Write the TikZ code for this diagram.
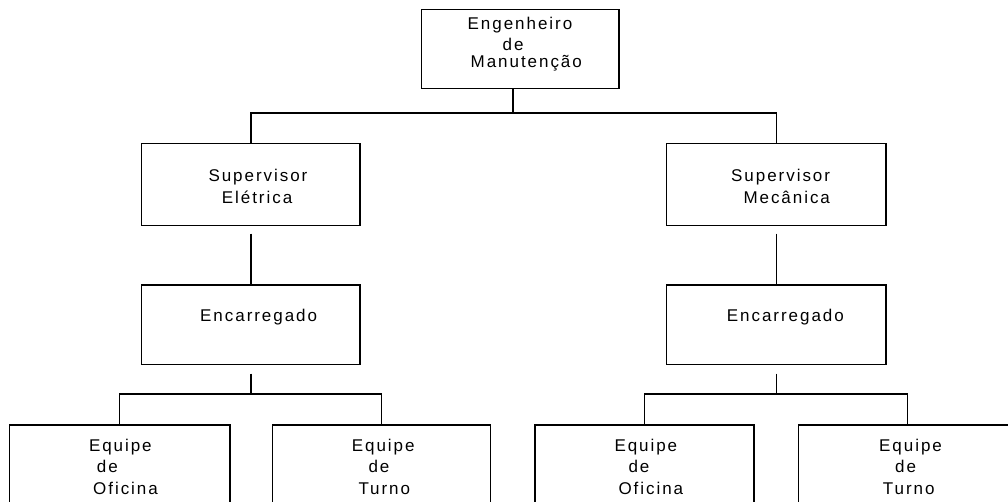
\documentclass[tikz,border=0pt]{standalone}
\usepackage{fontspec}
\newfontfamily\orgfont{Liberation Sans}[LetterSpace=11.5]
\begin{document}
\begin{tikzpicture}[x=1pt,y=-1pt,
  unit/.style={draw=black, line width=1.3pt, inner sep=0pt, fill=white},
  lbl/.style={anchor=base west, inner sep=0pt, font=\orgfont\fontsize{17}{20}\selectfont},
  link/.style={draw=black, line width=1.3pt}]
\useasboundingbox (0,0) rectangle (1008,502);
\fill[white] (0,0) rectangle (1008,502);
\clip (0,0) rectangle (1008,502);

% boxes
\node[unit, minimum width=197.3pt, minimum height=79pt] (eng) at (520.35,48.8) {};
\node[unit, minimum width=218.3pt, minimum height=82pt] (supE) at (250.85,184.7) {};
\node[unit, minimum width=219.3pt, minimum height=82pt] (supM) at (776.35,184.7) {};
\node[unit, minimum width=218.3pt, minimum height=79.5pt] (encE) at (250.85,324.75) {};
\node[unit, minimum width=219.3pt, minimum height=79.5pt] (encM) at (776.35,324.75) {};
\node[unit, minimum width=220.7pt, minimum height=100pt] (ofE) at (119.65,475) {};
\node[unit, minimum width=218pt, minimum height=100pt] (tuE) at (381.7,475) {};
\node[unit, minimum width=219pt, minimum height=100pt] (ofM) at (644.5,475) {};
\node[unit, minimum width=218pt, minimum height=100pt] (tuM) at (907.3,475) {};

% labels
\node[lbl] (engA) at (467.5,30) {Engenheiro};
\node[lbl] (engB) at (502.5,51) {de};
\node[lbl] (engC) at (470.5,67.5) {Manutenção};

\node[lbl] (supEA) at (208.3,181.7) {Supervisor};
\node[lbl] (supEB) at (221.7,203.3) {Elétrica};
\node[lbl] (supMA) at (731,181.7) {Supervisor};
\node[lbl] (supMB) at (743.3,203.3) {Mecânica};

\node[lbl] (encEA) at (200,321.7) {Encarregado};
\node[lbl] (encMA) at (726.7,321.7) {Encarregado};

\node[lbl] (ofEA) at (88.8,451) {Equipe};
\node[lbl] (ofEB) at (96.7,472) {de};
\node[lbl] (ofEC) at (93,494) {Oficina};
\node[lbl] (tuEA) at (351.7,451) {Equipe};
\node[lbl] (tuEB) at (368.3,472) {de};
\node[lbl] (tuEC) at (358.3,494) {Turno};
\node[lbl] (ofMA) at (614.3,451) {Equipe};
\node[lbl] (ofMB) at (628.3,472) {de};
\node[lbl] (ofMC) at (618.3,494) {Oficina};
\node[lbl] (tuMA) at (879,451) {Equipe};
\node[lbl] (tuMB) at (895,472) {de};
\node[lbl] (tuMC) at (882.7,494) {Turno};

% junction points
\coordinate (jTop) at (513,113);
\coordinate (jE) at (250.85,394);
\coordinate (jM) at (776.35,394);

% connectors
\draw[link] (jTop |- eng.south) -- (jTop);
\draw[link] (supE.north) |- (jTop);
\draw[link] (supM.north) |- (jTop);
\draw[link] ([yshift=-7.3pt]supE.south) -- (encE.north);
\draw[link] ([yshift=-7.3pt]supM.south) -- (encM.north);
\draw[link] ([yshift=-8.5pt]encE.south) -- (jE);
\draw[link] ([yshift=-8.5pt]encM.south) -- (jM);
\draw[link] (ofE.north) |- (jE);
\draw[link] (tuE.north) |- (jE);
\draw[link] (ofM.north) |- (jM);
\draw[link] (tuM.north) |- (jM);
\end{tikzpicture}
\end{document}
